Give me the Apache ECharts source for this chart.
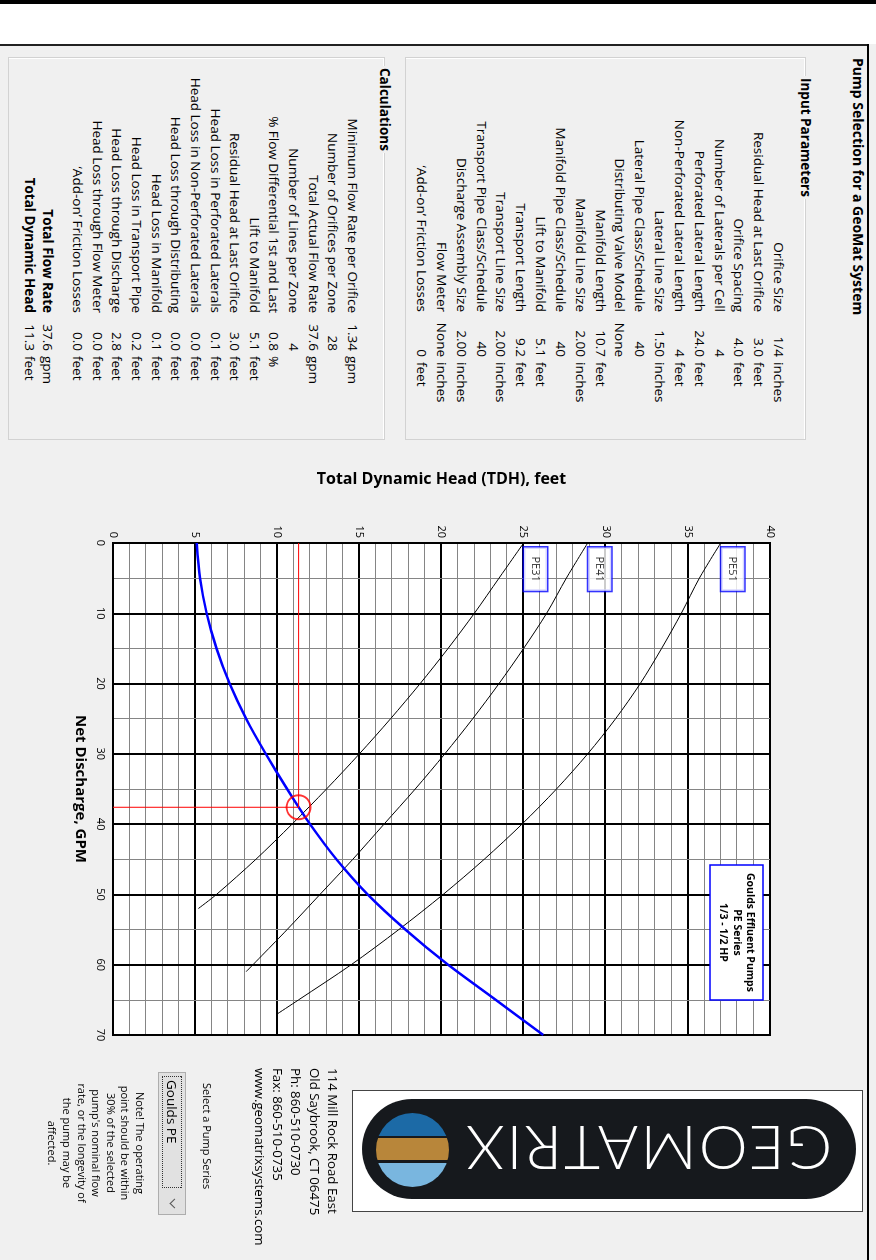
<!DOCTYPE html>
<html>
<head>
<meta charset="utf-8">
<script src="https://cdn.jsdelivr.net/npm/echarts@6/dist/echarts.min.js"></script>
<style>
html,body{margin:0;padding:0;}
body{width:876px;height:1260px;background:#f0f0f0;position:relative;overflow:hidden;font-family:"Open Sans","Noto Sans",sans-serif;color:#000;}
#page{position:absolute;left:0;top:0;width:1260px;height:876px;transform-origin:0 0;transform:translate(876px,0) rotate(90deg);}
.abs{position:absolute;white-space:nowrap;}
.box{position:absolute;border:1px solid #d2d2d2;box-shadow:inset 1px 1px 0 #fff;box-sizing:border-box;}
.legend{position:absolute;background:#f0f0f0;font-weight:bold;font-size:13.5px;line-height:16px;padding:0 2px;}
.row{font-size:13.5px;line-height:18px;}
#chart{position:absolute;left:440px;top:0;width:820px;height:876px;}
#select{position:absolute;left:1072px;top:690px;width:143px;height:28px;background:#e1e1e1;border:1px solid #adadad;box-sizing:border-box;}
#select .focus{position:absolute;left:3px;top:3px;width:112px;height:20px;border:1px dotted #333;box-sizing:border-box;font-size:13.5px;line-height:18px;padding-left:3px;}
#select .arrow{position:absolute;left:127px;top:7px;width:6px;height:6px;border-right:1.5px solid #555;border-bottom:1.5px solid #555;transform:rotate(45deg);}
#note{position:absolute;left:1068px;top:729px;width:150px;text-align:center;font-size:11px;line-height:14.6px;}
#contact{position:absolute;left:1068px;top:534px;font-size:13.3px;line-height:18.3px;}
#logo{position:absolute;left:352px;top:1090px;width:511px;height:122px;background:#fff;border:1px solid #444;box-sizing:border-box;}
#pill{position:absolute;left:9px;top:8px;width:494px;height:100px;border-radius:50px;background:#16191d;}
#emblem{position:absolute;left:23px;top:22px;width:73px;height:74px;border-radius:50%;overflow:hidden;background:#16191d;}
#emblem div{position:absolute;left:0;width:73px;}
#logotext{position:absolute;left:100px;top:22px;width:390px;height:74px;color:#fff;font-size:62px;line-height:74px;text-align:center;letter-spacing:2px;transform:rotate(180deg);font-family:Lato,"Open Sans",sans-serif;font-weight:300;}
</style>
</head>
<body>
<div class="abs" style="left:0;top:0;width:876px;height:4px;background:#000"></div>
<div class="abs" style="left:0;top:4px;width:876px;height:40px;background:#fff"></div>
<div class="abs" style="left:0;top:44px;width:869px;height:2px;background:#222"></div>
<div class="abs" style="left:867px;top:44px;width:2px;height:1216px;background:#000"></div>

<div id="page">
  <div class="abs" style="left:58px;top:9px;font-weight:bold;font-size:14px;line-height:18px;">Pump Selection for a GeoMat System</div>
  <div class="box" style="left:57px;top:70px;width:383px;height:401px;"></div>
  <div class="legend" style="left:76px;top:62px;">Input Parameters</div>
  <div class="box" style="left:57px;top:491px;width:383px;height:377px;"></div>
  <div class="legend" style="left:66px;top:483px;">Calculations</div>
  <div id="rows"></div>
  <div id="chart"></div>
  <div id="contact"></div>
  <div class="abs" style="left:1083px;top:661px;font-size:11px;line-height:16px;">Select a Pump Series</div>
  <div id="select"><div class="focus">Goulds PE</div><div class="arrow"></div></div>
  <div id="note"></div>
</div>

<div id="logo">
  <div id="pill"></div>
  <div id="emblem">
    <div style="top:0;height:23px;background:#1c6aa6"></div>
    <div style="top:25px;height:22px;background:#b8863a"></div>
    <div style="top:50px;height:24px;background:#79b6df"></div>
  </div>
  <div id="logotext">GEOMATRIX</div>
</div>

<script>
// ---------- Data ----------
const inputLabels = ["Orifice Size","Residual Head at Last Orifice","Orifice Spacing","Number of Laterals per Cell","Perforated Lateral Length","Non-Perforated Lateral Length","Lateral Line Size","Lateral Pipe Class/Schedule","Distributing Valve Model","Manifold Length","Manifold Line Size","Manifold Pipe Class/Schedule","Lift to Manifold","Transport Length","Transport Line Size","Transport Pipe Class/Schedule","Discharge Assembly Size","Flow Meter","\u2018Add-on\u2019 Friction Losses"];
const inputValues = ["1/4","3.0","4.0","4","24.0","4","1.50","40","None","10.7","2.00","40","5.1","9.2","2.00","40","2.00","None","0"];
const inputUnits  = ["inches","feet","feet","","feet","feet","inches","","","feet","inches","","feet","feet","inches","","inches","inches","feet"];

const calcLabels = ["Minimum Flow Rate per Orifice","Number of Orifices per Zone","Total Actual Flow Rate","Number of Lines per Zone","% Flow Differential 1st and Last","Lift to Manifold","Residual Head at Last Orifice","Head Loss in Perforated Laterals","Head Loss in Non-Perforated Laterals","Head Loss through Distributing","Head Loss in Manifold","Head Loss in Transport Pipe","Head Loss through Discharge","Head Loss through Flow Meter","\u2018Add-on\u2019 Friction Losses"];
const calcValues = ["1.34","28","37.6","4","0.8","5.1","3.0","0.1","0.0","0.0","0.1","0.2","2.8","0.0","0.0"];
const calcUnits  = ["gpm","","gpm","","%","feet","feet","feet","feet","feet","feet","feet","feet","feet","feet"];
const totalLabels = ["Total Flow Rate","Total Dynamic Head"];
const totalValues = ["37.6","11.3"];
const totalUnits  = ["gpm","feet"];

const contactLines = ["114 Mill Rock Road East","Old Saybrook, CT 06475","Ph: 860-510-0730","Fax: 860-510-0735","www.geomatrixsystems.com"];
const noteLines = ["Note!  The operating","point should be within","30% of the selected","pump's nominal flow","rate, or the longevity of","the pump may be","affected."];

// chart data: [GPM, TDH]
const pumpNames = ["PE31","PE41","PE51"];
const pe31 = [[0,25.0],[5,23.5],[10,22.0],[15,20.4],[20,18.7],[25,16.9],[30,15.0],[35,13.0],[40,10.9],[45,8.7],[50,6.3],[52,5.2]];
const pe41 = [[0,28.9],[5,27.6],[10,26.4],[15,25.0],[20,23.5],[25,21.9],[30,20.2],[35,18.4],[40,16.5],[45,14.6],[50,12.6],[55,10.6],[61,8.1]];
const pe51 = [[0,37.0],[5,35.7],[10,34.6],[15,33.4],[20,32.1],[25,30.6],[30,28.9],[35,27.0],[40,24.9],[45,22.6],[50,20.1],[55,17.4],[60,14.5],[65,11.3],[67,10.0]];
const systemCurve = [[0,5.1],[5,5.3],[10,5.7],[15,6.3],[20,7.1],[25,8.1],[30,9.3],[35,10.6],[40,12.0],[45,13.6],[50,15.5],[55,17.8],[60,20.4],[65,23.3],[70,26.2]];
const operatingPoint = [37.6, 11.3];
const gpmTicks = {min:0, max:70, interval:10};
const tdhTicks = {min:0, max:40, interval:5};
const seriesBox = ["Goulds Effluent Pumps","PE Series","1/3 - 1/2 HP"];

// ---------- Tables ----------
const rows = document.getElementById('rows');
function span(text, left, top, width, align, bold){
  const d = document.createElement('div');
  d.className = 'abs row';
  d.style.left = left + 'px'; d.style.top = top + 'px';
  if (width) { d.style.width = width + 'px'; d.style.textAlign = align; }
  if (bold) d.style.fontWeight = 'bold';
  d.textContent = text;
  rows.appendChild(d);
}
function addRow(label, value, unit, y, labelRight, numRight, unitLeft, bold){
  span(label, labelRight - 300, y - 9, 300, 'right', bold);
  span(value, numRight - 60, y - 9, 60, 'right', false);
  if (unit) span(unit, unitLeft, y - 9, 0, '', false);
}
inputLabels.forEach((l,i)=>addRow(l, inputValues[i], inputUnits[i], 97 + 19.83*i, 312, 357, 362, false));
calcLabels.forEach((l,i)=>addRow(l, calcValues[i], calcUnits[i], 523 + 19.64*i, 313, 351, 356, false));
totalLabels.forEach((l,i)=>addRow(l, totalValues[i], totalUnits[i], 828 + 18.3*i, 313, 351, 356, true));
document.getElementById('contact').innerHTML = contactLines.join('<br>');
document.getElementById('note').innerHTML = noteLines.join('<br>');

// ---------- Chart ----------
const FONT = '"Open Sans", "Noto Sans", sans-serif';
const chart = echarts.init(document.getElementById('chart'), null, {renderer:'canvas'});
const curves = [pe31, pe41, pe51];
const axisCommon = {
  type:'value',
  axisLine:{show:true,onZero:false,lineStyle:{color:'#000',width:2}},
  axisTick:{show:false},
  splitLine:{show:true,lineStyle:{color:'#000',width:2}},
  minorSplitLine:{show:true,lineStyle:{color:'#858585',width:1}}
};
const series = curves.map((c,i)=>({
  name:pumpNames[i], type:'line', data:c, showSymbol:false, symbol:'none', smooth:0.3,
  lineStyle:{color:'#000',width:1}, z:3, silent:true
}));
series.push({name:'System', type:'line', data:systemCurve, showSymbol:false, symbol:'none', smooth:0.3,
  lineStyle:{color:'#0000ff',width:2.5}, z:4});
series.push({name:'hLine', type:'line', data:[[0,operatingPoint[1]],operatingPoint], showSymbol:false, symbol:'none',
  lineStyle:{color:'#ff0000',width:1}, z:5});
series.push({name:'vLine', type:'line', data:[[operatingPoint[0],0],operatingPoint], showSymbol:false, symbol:'none',
  lineStyle:{color:'#ff0000',width:1}, z:5});
series.push({name:'op', type:'scatter', data:[operatingPoint], symbol:'circle', symbolSize:24,
  itemStyle:{color:'rgba(0,0,0,0)',borderColor:'#ff0000',borderWidth:2}, z:6});
series.push({name:'labels', type:'scatter', symbolSize:1, itemStyle:{color:'rgba(0,0,0,0)'}, z:7,
  data: curves.map((c,i)=>[c[0][0], c[0][1], pumpNames[i]]),
  label:{show:true, formatter:p=>p.value[2], position:[5,-23], align:'left', verticalAlign:'top',
    backgroundColor:'#fff', borderColor:'#0000ff', borderWidth:1.5, padding:[6,9,5,9],
    fontSize:11, lineHeight:12, color:'#000', fontFamily:FONT}});

chart.setOption({
  animation:false,
  backgroundColor:'transparent',
  textStyle:{fontFamily:FONT},
  grid:{left:103,right:225,top:106,bottom:113,show:true,backgroundColor:'#fff',borderColor:'#000',borderWidth:2},
  xAxis:Object.assign({}, axisCommon, {
    min:gpmTicks.min, max:gpmTicks.max, interval:gpmTicks.interval,
    name:'Net Discharge, GPM', nameLocation:'middle', nameGap:25,
    nameTextStyle:{fontWeight:'bold',fontSize:15,color:'#000',fontFamily:FONT},
    axisLabel:{color:'#000',fontSize:11,margin:7,fontFamily:FONT},
    minorTick:{show:true,splitNumber:2,length:0}
  }),
  yAxis:Object.assign({}, axisCommon, {
    min:tdhTicks.min, max:tdhTicks.max, interval:tdhTicks.interval,
    name:'Total Dynamic Head (TDH), feet', nameLocation:'middle', nameGap:56, nameRotate:90,
    nameTextStyle:{fontWeight:'bold',fontSize:16,color:'#000',fontFamily:FONT},
    axisLabel:{color:'#000',fontSize:11,margin:5,fontFamily:FONT},
    minorTick:{show:true,splitNumber:5,length:0}
  }),
  graphic:[
    {type:'rect', shape:{x:425,y:113,width:135,height:53}, style:{fill:'#fff',stroke:'#0000ff',lineWidth:1.5}, z:10},
    {type:'text', x:492.5, y:139.5, style:{text:seriesBox.join('\n'), align:'center', verticalAlign:'middle',
      font:'bold 10.5px "Open Sans", "Noto Sans", sans-serif', lineHeight:13.5, fill:'#000'}, z:11}
  ],
  series:series
});
</script>
</body>
</html>
